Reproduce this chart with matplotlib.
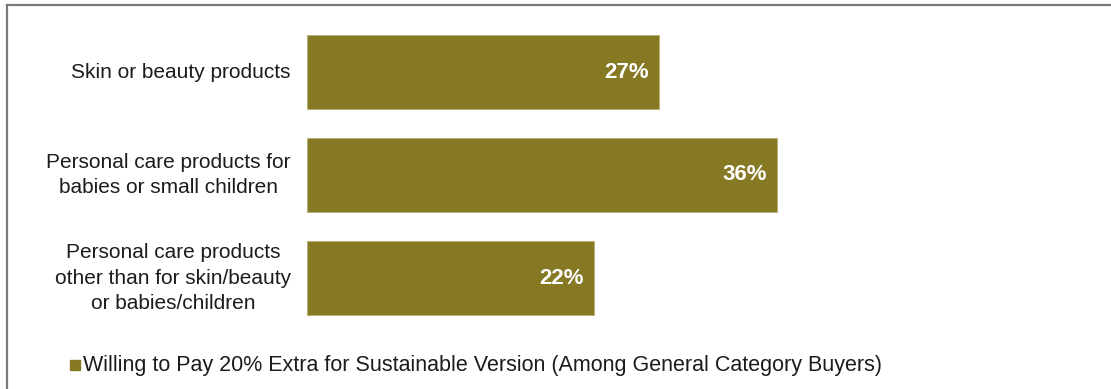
import matplotlib.pyplot as plt
from matplotlib.lines import Line2D
from matplotlib.patches import Rectangle

categories = [
    "Skin or beauty products",
    "Personal care products for\nbabies or small children",
    "Personal care products\nother than for skin/beauty\nor babies/children",
]
values = [27, 36, 22]
series_label = "Willing to Pay 20% Extra for Sustainable Version (Among General Category Buyers)"

BAR_COLOR = "#877823"
TEXT_COLOR = "#1c1c1c"
FONT = ["Liberation Sans", "DejaVu Sans"]

plt.rcParams["font.family"] = FONT

W, H = 1111, 389
fig = plt.figure(figsize=(W / 100, H / 100), dpi=100)

# axes placed in pixel terms: bars start at x=306, 103 px per category
ax = fig.add_axes([306.5 / W, 1 - 329.5 / H, 784 / W, 309 / H])
y = list(range(len(categories)))
ax.barh(y, values, height=0.72, color=BAR_COLOR, edgecolor="#b8ad78", linewidth=0.6)
ax.set_xlim(0, 60)
ax.set_ylim(len(categories) - 0.5, -0.5)
ax.axis("off")

for yi, v, cat in zip(y, values, categories):
    ax.text(v - 0.8, yi, f"{v}%", ha="right", va="center", color="white",
            fontsize=16, fontweight="bold")
    ax.text(-1.2, yi, cat, ha="right", va="center", color=TEXT_COLOR,
            fontsize=15, multialignment="center", linespacing=1.42)

# legend: small square swatch followed by the series name
fig.patches.append(Rectangle((70 / W, 1 - 370 / H), 10 / W, 10 / H,
                             transform=fig.transFigure, color=BAR_COLOR))
fig.text(83 / W, 1 - 365 / H, series_label, ha="left", va="center",
         color=TEXT_COLOR, fontsize=15.5)

# frame lines along the top and left edge
frame = "#7a7a7a"
fig.add_artist(Line2D([7 / W, 1], [1 - 5 / H, 1 - 5 / H], color=frame, lw=1.6,
                      transform=fig.transFigure))
fig.add_artist(Line2D([7 / W, 7 / W], [0, 1 - 5 / H], color=frame, lw=1.6,
                      transform=fig.transFigure))

fig.savefig("out.png", dpi=100, facecolor="white")
